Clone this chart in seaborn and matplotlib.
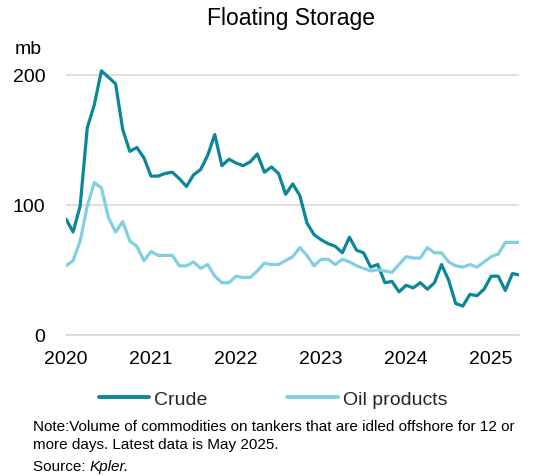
import numpy as np
import pandas as pd
import matplotlib
matplotlib.use("Agg")
import matplotlib.pyplot as plt
from matplotlib.lines import Line2D
from matplotlib.ticker import FixedLocator
import seaborn as sns

# Monthly floating storage, million barrels, Jan 2020 - May 2025
months = pd.date_range("2020-01-01", "2025-05-01", freq="MS")
crude = [89, 79, 99, 159, 177, 203, 198, 193, 158, 141, 144, 136,
         122, 122, 124, 125, 120, 114, 123, 127, 138, 154, 130, 135,
         132, 130, 133, 139, 125, 129, 124, 108, 116, 107, 86, 77,
         73, 70, 68, 63, 75, 65, 63, 52, 54, 40, 41, 33,
         38, 36, 40, 35, 40, 54, 42, 24, 22, 31, 30, 35,
         45, 45, 34, 47, 46]
oil_products = [53, 57, 72, 99, 117, 113, 90, 79, 87, 72, 68, 57,
                64, 61, 61, 61, 53, 53, 56, 51, 54, 45, 40, 40,
                45, 44, 44, 49, 55, 54, 54, 57, 60, 67, 61, 53,
                58, 58, 54, 58, 56, 53, 51, 49, 50, 49, 48, 54,
                60, 59, 59, 67, 63, 63, 56, 53, 52, 54, 52, 56,
                60, 62, 71, 71, 71]
series_names = ["Crude", "Oil products"]
series_colors = ["#0A8798", "#80D0E0"]
year_labels = ["2020", "2021", "2022", "2023", "2024", "2025"]
y_ticks = [0, 100, 200]

t = months.year + (months.month - 1) / 12
df = pd.DataFrame({
    "t": np.tile(t, 2),
    "mb": crude + oil_products,
    "series": np.repeat(series_names, len(months)),
})

sns.set_theme(style="white")
plt.rcParams["font.family"] = ["Liberation Sans", "DejaVu Sans"]

fig = plt.figure(figsize=(5.37, 4.77), dpi=100)
ax = fig.add_axes([0.1229, 0.2962, 0.8445, 0.5724])

sns.lineplot(data=df, x="t", y="mb", hue="series",
             palette=dict(zip(series_names, series_colors)),
             linewidth=2.3, ax=ax, legend=False)

grid_col = "#D9D9D9"
ax.set_xlim(t[0], t[-1])
ax.set_ylim(0, 210)
ax.set_xlabel("")
ax.set_ylabel("")

ax.set_yticks(y_ticks)
ax.set_yticklabels([str(v) for v in y_ticks], fontsize=14, color="#000000")
ax.yaxis.grid(True, color=grid_col, linewidth=1.2)
ax.xaxis.grid(False)
ax.set_axisbelow(True)

years = [int(y) for y in year_labels]
ax.set_xticks(years)
ax.set_xticklabels(year_labels, fontsize=14, color="#000000")
ax.xaxis.set_minor_locator(FixedLocator([y + 0.5 for y in years[:-1]]))

ax.tick_params(axis="y", length=0, pad=15)
ax.tick_params(axis="x", which="both", direction="in", length=4.5,
               width=1, color=grid_col, pad=11)

for side in ["top", "right", "left"]:
    ax.spines[side].set_visible(False)
ax.spines["bottom"].set_color(grid_col)
ax.spines["bottom"].set_linewidth(1.2)

fig.text(0.541, 1 - 19 / 477, "Floating Storage", ha="center", va="center",
         fontsize=16.5, color="#000000")
fig.text(28.5 / 537, 1 - 49 / 477, "mb", ha="center", va="center",
         fontsize=14, color="#000000")

handles = [Line2D([], [], color=c, linewidth=2.8) for c in series_colors]
fig.legend(handles, series_names, ncol=2, loc="center",
           bbox_to_anchor=(273 / 537, 1 - 400 / 477), frameon=False,
           fontsize=14, handlelength=2.6, handletextpad=0.25,
           columnspacing=4.1)

note_kw = dict(ha="left", va="center", fontsize=11, color="#000000")
fig.text(33 / 537, 1 - 427 / 477,
         "Note:Volume of commodities on tankers that are idled offshore for 12 or",
         **note_kw)
fig.text(33 / 537, 1 - 445 / 477, "more days. Latest data is May 2025.", **note_kw)
src = fig.text(33 / 537, 1 - 467 / 477, "Source: ", **note_kw)
fig.canvas.draw()
bb = src.get_window_extent(fig.canvas.get_renderer())
fig.text(bb.x1 / fig.bbox.width, 1 - 467 / 477, "Kpler.", style="italic", **note_kw)

fig.savefig("out.png", dpi=100)
